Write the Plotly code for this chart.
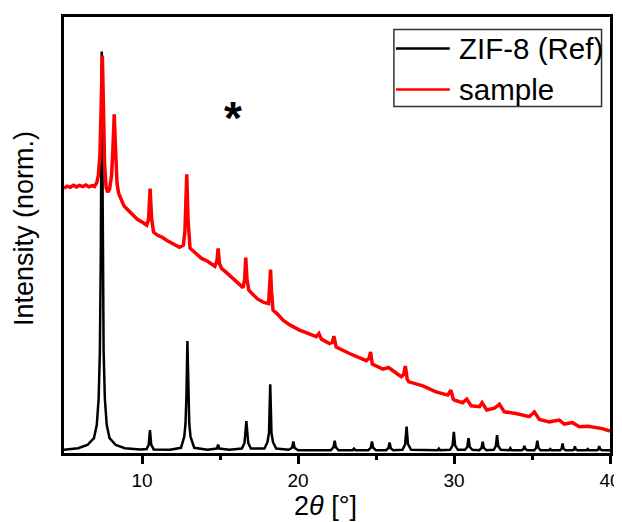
import plotly.graph_objects as go

# ---- reference pattern (ZIF-8, simulated) ----
ref_2theta = [5.0, 5.9, 6.5, 6.92, 7.1, 7.22, 7.3, 7.36, 7.42, 7.48, 7.54, 7.62, 7.74, 7.92, 8.32, 8.9, 9.9,
              10.3, 10.43, 10.51, 10.59, 10.75, 11.8,
              12.5, 12.71, 12.79, 12.85, 12.91, 12.97, 13.03, 13.11, 13.35, 14.2,
              14.8, 14.88, 14.96, 15.6,
              16.4, 16.57, 16.69, 16.81, 16.98,
              17.85, 18.04, 18.14, 18.22, 18.3, 18.4, 18.6,
              19.4, 19.62, 19.7, 19.78, 20.0,
              22.1, 22.27, 22.35, 22.43, 22.6,
              23.5, 23.59, 23.68,
              24.5, 24.66, 24.74, 24.82, 25.0,
              25.65, 25.79, 25.87, 25.95, 26.1,
              26.7, 26.87, 26.96, 27.05, 27.25,
              28.95, 29.03, 29.11,
              29.75, 29.91, 29.99, 30.07, 30.25,
              30.7, 30.85, 30.93, 31.01, 31.18,
              31.62, 31.77, 31.84, 31.91, 32.08,
              32.55, 32.68, 32.76, 32.84, 33.0,
              33.53, 33.61, 33.69,
              34.35, 34.45, 34.51, 34.57, 34.7,
              35.15, 35.27, 35.34, 35.41, 35.55,
              36.1, 36.17, 36.24,
              36.8, 36.9, 36.96, 37.02, 37.15,
              37.62, 37.7, 37.75, 37.8, 37.92,
              38.5, 38.57, 38.64,
              39.17, 39.25, 39.31, 39.37, 39.5,
              40.0]
ref_intensity = [0.003, 0.007, 0.015, 0.032, 0.065, 0.13, 0.25, 0.5, 1.0, 0.5, 0.25, 0.13, 0.065, 0.032, 0.015, 0.007, 0.004,
                 0.005, 0.016, 0.052, 0.016, 0.004, 0.003,
                 0.008, 0.036, 0.069, 0.14, 0.275, 0.14, 0.069, 0.036, 0.008, 0.003,
                 0.006, 0.016, 0.006, 0.003,
                 0.006, 0.02, 0.075, 0.02, 0.006,
                 0.006, 0.022, 0.045, 0.167, 0.045, 0.022, 0.006,
                 0.003, 0.008, 0.024, 0.008, 0.002,
                 0.002, 0.009, 0.026, 0.009, 0.002,
                 0.002, 0.006, 0.002,
                 0.002, 0.008, 0.024, 0.008, 0.002,
                 0.002, 0.007, 0.021, 0.007, 0.002,
                 0.003, 0.017, 0.061, 0.017, 0.003,
                 0.002, 0.006, 0.002,
                 0.003, 0.014, 0.048, 0.014, 0.003,
                 0.003, 0.01, 0.032, 0.01, 0.003,
                 0.002, 0.008, 0.023, 0.008, 0.002,
                 0.003, 0.012, 0.04, 0.012, 0.003,
                 0.002, 0.007, 0.002,
                 0.002, 0.005, 0.013, 0.005, 0.002,
                 0.002, 0.008, 0.026, 0.008, 0.002,
                 0.002, 0.005, 0.002,
                 0.002, 0.006, 0.019, 0.006, 0.002,
                 0.002, 0.004, 0.012, 0.004, 0.002,
                 0.002, 0.005, 0.002,
                 0.002, 0.004, 0.012, 0.004, 0.002,
                 0.002]

# ---- measured sample (offset, normalised) ----
sample_2theta = [5.0, 5.2, 5.4, 5.6, 5.8, 6.0, 6.2, 6.4, 6.6, 6.8, 6.95, 7.1, 7.2, 7.3, 7.38, 7.46, 7.53, 7.6, 7.7,
                 7.8, 7.92, 8.05, 8.14, 8.22, 8.3, 8.4, 8.5, 8.7, 8.85, 9.1, 9.4, 9.7, 10.0, 10.3, 10.42,
                 10.52, 10.62, 10.74, 11.0, 11.3, 11.6, 12.0, 12.4, 12.65, 12.75, 12.87, 12.95, 13.08, 13.4,
                 13.82, 14.2, 14.67, 14.8, 14.88, 14.96, 15.1, 15.4, 15.73, 16.1, 16.48, 16.58, 16.65, 16.73,
                 16.85, 17.1, 17.43, 17.8, 18.11, 18.18, 18.24, 18.3, 18.4, 18.7, 19.04, 19.5, 20.1, 20.6,
                 21.17, 21.34, 21.5, 22.02, 22.2, 22.3, 22.45, 23.3, 23.8, 24.38, 24.55, 24.65, 24.76, 25.44,
                 25.8, 26.3, 26.62, 26.78, 26.88, 27.0, 27.11, 28.0, 28.85, 29.6, 29.8, 29.95, 30.03, 30.56,
                 30.82, 31.1, 31.63, 31.8, 32.1, 32.59, 32.91, 33.23, 33.97, 34.83, 35.15, 35.47, 36.11,
                 36.75, 37.07, 37.6, 38.03, 38.6, 39.09, 39.5, 40.0]
sample_intensity = [0.6575, 0.663, 0.66, 0.665, 0.661, 0.665, 0.662, 0.666, 0.661, 0.664, 0.662, 0.672, 0.69, 0.74,
                    0.86, 0.99, 0.86, 0.72, 0.66, 0.648, 0.655, 0.69, 0.76, 0.8425, 0.76, 0.67, 0.645, 0.625,
                    0.613, 0.603, 0.59, 0.58, 0.573, 0.565, 0.58, 0.657, 0.58, 0.548, 0.54, 0.535, 0.527, 0.518,
                    0.51, 0.515, 0.55, 0.6925, 0.58, 0.5075, 0.497, 0.482, 0.475, 0.4625, 0.475, 0.507, 0.47,
                    0.457, 0.447, 0.436, 0.422, 0.409, 0.43, 0.484, 0.43, 0.4025, 0.392, 0.38, 0.372, 0.369,
                    0.41, 0.454, 0.4, 0.3525, 0.342, 0.3275, 0.315, 0.3025, 0.295, 0.286, 0.294, 0.28, 0.269,
                    0.272, 0.2875, 0.26, 0.244, 0.236, 0.226, 0.232, 0.248, 0.2175, 0.205, 0.209, 0.196, 0.186,
                    0.192, 0.2125, 0.18, 0.173, 0.163, 0.148, 0.14, 0.1525, 0.13, 0.1275, 0.121, 0.13, 0.113,
                    0.111, 0.121, 0.1025, 0.107, 0.117, 0.098, 0.094, 0.086, 0.098, 0.079, 0.073, 0.0775,
                    0.0675, 0.071, 0.061, 0.062, 0.059, 0.056, 0.05]

series_names = ["ZIF-8 (Ref)", "sample"]
series_colors = ["#000000", "#ff0000"]
x_tick_values = [10, 20, 30, 40]

FONT = "Liberation Sans, Arial, sans-serif"

fig = go.Figure()
fig.add_trace(go.Scatter(x=ref_2theta, y=ref_intensity, mode="lines", name=series_names[0],
                         line=dict(color=series_colors[0], width=2.5), showlegend=False))
fig.add_trace(go.Scatter(x=sample_2theta, y=sample_intensity, mode="lines", name=series_names[1],
                         line=dict(color=series_colors[1], width=3.5), showlegend=False))

# page body adds an 8px margin, so the figure is 614x514 placed at (8, 8)
fig.update_layout(
    template="none",
    width=614, height=514,
    margin=dict(l=55.5, r=11.5, t=8.5, b=69, autoexpand=False),
    paper_bgcolor="white", plot_bgcolor="white",
    font=dict(family=FONT, color="black"),
    showlegend=False,
    xaxis=dict(range=[5, 40], tickvals=x_tick_values, ticks="outside", ticklen=8, tickwidth=3,
               tickcolor="black", showline=True, linewidth=3, linecolor="black", mirror=True,
               automargin=False, showgrid=False, zeroline=False,
               tickfont=dict(size=19, family=FONT, color="black"),
               minor=dict(tickvals=[15, 25, 35], ticks="outside", ticklen=4, tickwidth=3, tickcolor="black",
                          showgrid=False)),
    yaxis=dict(range=[-0.005, 1.08625], showticklabels=False, ticks="", showline=True, linewidth=3,
               linecolor="black", mirror=True, automargin=False, showgrid=False, zeroline=False),
)

# axis titles
fig.add_annotation(text="2<i>θ</i> [°]", xref="paper", yref="paper", x=0.479, y=-0.121,
                   xanchor="center", yanchor="middle", showarrow=False, font=dict(size=27, family=FONT))
fig.add_annotation(text="Intensity (norm.)", xref="paper", yref="paper", x=-0.0735, y=0.5155,
                   xanchor="center", yanchor="middle", textangle=-90, showarrow=False,
                   font=dict(size=27, family=FONT))
# asterisk marker
fig.add_annotation(text="<b>*</b>", x=15.82, y=0.8325, xanchor="center", yanchor="middle", showarrow=False,
                   font=dict(size=46, family=FONT))

# legend (drawn)
fig.add_shape(type="rect", xref="paper", yref="paper", x0=0.6042, x1=0.9845, y0=0.795, y1=0.9714,
              line=dict(color="#333333", width=1.5), fillcolor="white", layer="above")
leg_y = [0.9278, 0.8339]
for name, col, yy in zip(series_names, series_colors, leg_y):
    fig.add_shape(type="line", xref="paper", yref="paper", x0=0.6079, x1=0.7066, y0=yy, y1=yy,
                  line=dict(color=col, width=2.5), layer="above")
    fig.add_annotation(text=name, xref="paper", yref="paper", x=0.7192, y=yy, xanchor="left",
                       yanchor="middle", showarrow=False, font=dict(size=29.5, family=FONT, color="black"))

fig.write_html("out.html")
